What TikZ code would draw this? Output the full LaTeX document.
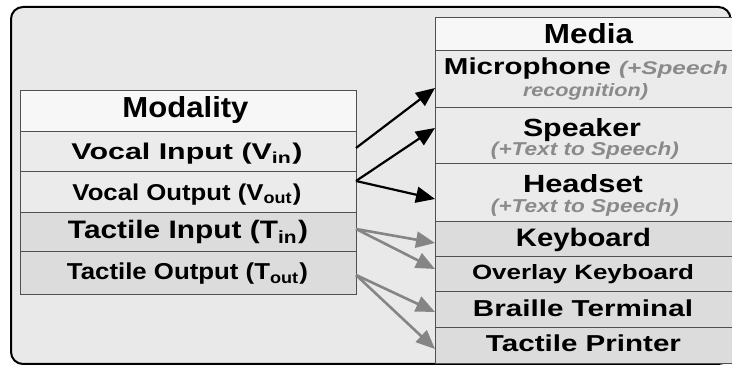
\documentclass[tikz,border=0pt]{standalone}
\usepackage{fontspec}
\setmainfont{Liberation Sans}
\usepackage{graphicx}
\usetikzlibrary{arrows.meta}
\definecolor{bg}{HTML}{E9E9E9}
\definecolor{hdrfill}{HTML}{F7F7F7}
\definecolor{lightrow}{HTML}{EBEBEB}
\definecolor{darkrow}{HTML}{DCDCDC}
\definecolor{linegray}{HTML}{505050}
\definecolor{subgray}{HTML}{8A8A8A}
\definecolor{arrowgray}{HTML}{858585}
\newcommand{\rb}[3]{\resizebox{#1pt}{#2pt}{#3}}
\begin{document}
\begin{tikzpicture}[x=1pt,y=-1pt,
  rowbox/.style={draw=linegray, line width=0.9pt, anchor=north west, inner sep=0pt, outer sep=0pt},
  txt/.style={anchor=base, inner sep=0pt, font=\bfseries},
  sub/.style={anchor=base, inner sep=0pt, font=\bfseries\itshape, text=subgray},
  blk/.style={draw=black, line width=2.2pt, -{Triangle[length=19pt,width=16pt]}},
  gry/.style={draw=arrowgray, line width=2.6pt, -{Triangle[length=19pt,width=16pt]}},
  outerbox/.style={draw=black, line width=2pt, fill=bg, rounded corners=12pt, anchor=north west, inner sep=0pt, outer sep=0pt}
]
\useasboundingbox (0,0) rectangle (732,366);
\clip (0,0) rectangle (732,366);

% frame
\node[outerbox, minimum width=719.5pt, minimum height=357pt] (frame) at (11,7) {};

% Modality table
\node[rowbox, fill=hdrfill, minimum width=336pt, minimum height=41pt] (mhdr) at (20,90) {};
\node[rowbox, fill=lightrow, minimum width=336pt, minimum height=40pt] (vin) at (20,131) {};
\node[rowbox, fill=lightrow, minimum width=336pt, minimum height=41pt] (vout) at (20,171) {};
\node[rowbox, fill=darkrow, minimum width=336pt, minimum height=39pt] (tin) at (20,212) {};
\node[rowbox, fill=darkrow, minimum width=336pt, minimum height=43pt] (tout) at (20,251) {};

\node[txt] (tmod) at (185.5,118) {\rb{126}{21}{Modality}};
\node[txt] (tvin) at (187,160) {\rb{231}{16.5}{Vocal Input (V\textsubscript{in})}};
\node[txt] (tvout) at (187,200.3) {\rb{229}{16.6}{Vocal Output (V\textsubscript{out})}};
\node[txt] (ttin) at (188,239) {\rb{240}{18.3}{Tactile Input (T\textsubscript{in})}};
\node[txt] (ttout) at (187.5,279.7) {\rb{241}{16.7}{Tactile Output (T\textsubscript{out})}};

% Media table
\node[rowbox, fill=hdrfill, minimum width=305pt, minimum height=33pt] (dhdr) at (435,17) {};
\node[rowbox, fill=lightrow, minimum width=305pt, minimum height=57pt] (mic) at (435,50) {};
\node[rowbox, fill=lightrow, minimum width=305pt, minimum height=56pt] (spk) at (435,107) {};
\node[rowbox, fill=lightrow, minimum width=305pt, minimum height=58pt] (hds) at (435,163) {};
\node[rowbox, fill=darkrow, minimum width=305pt, minimum height=35pt] (kbd) at (435,221) {};
\node[rowbox, fill=darkrow, minimum width=305pt, minimum height=35pt] (ovl) at (435,256) {};
\node[rowbox, fill=darkrow, minimum width=305pt, minimum height=36pt] (brl) at (435,291) {};
\node[rowbox, fill=darkrow, minimum width=305pt, minimum height=36pt] (tpr) at (435,327) {};

\node[txt] (tmedia) at (588.5,43.3) {\rb{89}{20}{Media}};
\node[txt] (tmic) at (586,75) {\rb{167}{16.7}{Microphone}\hspace{8pt}{\color{subgray}\rb{109}{13.3}{\itshape(+Speech}}};
\node[sub] (tmic2) at (585.5,97) {\rb{125}{13}{recognition)}};
\node[txt] (tspk) at (582,136.7) {\rb{118}{18}{Speaker}};
\node[sub] (tspk2) at (585,156) {\rb{188}{13.5}{(+Text to Speech)}};
\node[txt] (thds) at (583,192.7) {\rb{120}{18}{Headset}};
\node[sub] (thds2) at (585,212.5) {\rb{188}{13.5}{(+Text to Speech)}};
\node[txt] (tkbd) at (583.5,246.3) {\rb{135}{18.3}{Keyboard}};
\node[txt] (tovl) at (583,279.7) {\rb{222}{15}{Overlay Keyboard}};
\node[txt] (tbrl) at (583,316.3) {\rb{220}{16.7}{Braille Terminal}};
\node[txt] (ttpr) at (583.5,351.3) {\rb{195}{16.7}{Tactile Printer}};

% arrows
\draw[blk] ([yshift=3pt]vin.east) -- ([yshift=-9.5pt]mic.west);
\draw[blk] ([yshift=10.5pt]vout.east) -- ([yshift=7pt]spk.west);
\draw[blk] ([yshift=10.5pt]vout.east) -- ([yshift=-7pt]hds.west);
\draw[gry] ([yshift=2.5pt]tin.east) -- ([yshift=-4.5pt]kbd.west);
\draw[gry] ([yshift=2.5pt]tin.east) -- ([yshift=4.5pt]ovl.west);
\draw[gry] ([yshift=-2.5pt]tout.east) -- ([yshift=-3pt]brl.west);
\draw[gry] ([yshift=-2.5pt]tout.east) -- ([yshift=-4pt]tpr.west);
\end{tikzpicture}
\end{document}
